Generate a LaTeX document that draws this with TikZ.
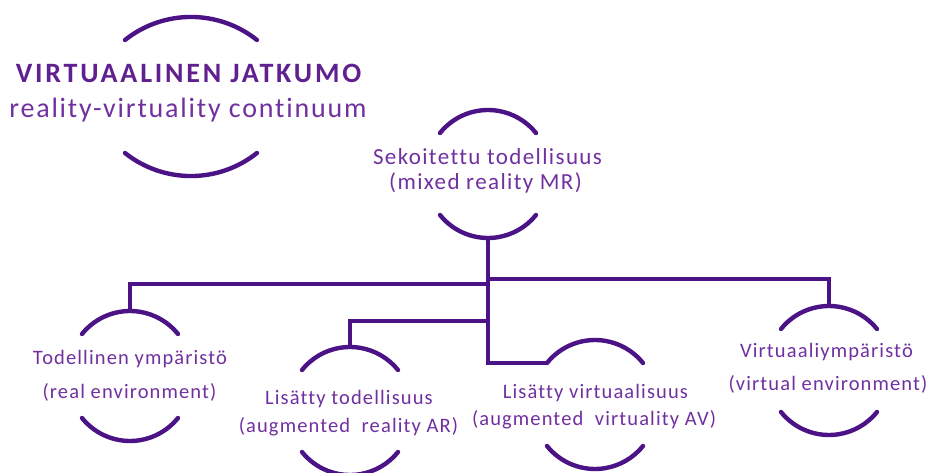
\documentclass[tikz,border=0pt]{standalone}
\usepackage{fontspec}
\setmainfont{Carlito}[Ligatures=NoCommon]
\definecolor{arcpurple}{HTML}{4B1385}
\definecolor{txtpurple}{HTML}{7030A0}
\definecolor{headpurple}{HTML}{60208F}

% Two arcs (above and below a label) around centre (#2,#3);
% #4 = vertical half-gap between the arc ends, #5 = half chord, #6 = radius, #7 = half angle
\newcommand\ringarcs[7]{%
  \coordinate (#1-tl) at (#2-#5,#3+#4);
  \draw[arcline] (#1-tl) arc[start angle={90+#7}, end angle={90-#7}, radius=#6] coordinate (#1-tr);
  \coordinate (#1-t) at (#2,{#3+#4+#6*(1-cos(#7))});
  \coordinate (#1-bl) at (#2-#5,#3-#4);
  \draw[arcline] (#1-bl) arc[start angle={270-#7}, end angle={270+#7}, radius=#6] coordinate (#1-br);
  \coordinate (#1-b) at (#2,{#3-#4-#6*(1-cos(#7))});
}

\begin{document}
\begin{tikzpicture}[x=1pt,y=1pt,
  arcline/.style={draw=arcpurple, line width=4.4pt, line cap=round},
  link/.style={draw=arcpurple, line width=4.4pt},
  lbl/.style={anchor=base, inner sep=0pt, text=txtpurple,
    font=\fontsize{20.5}{24}\selectfont\addfontfeature{LetterSpace=5.5}},
  lblbig/.style={anchor=base, inner sep=0pt, text=txtpurple,
    font=\fontsize{23}{26}\selectfont\addfontfeature{LetterSpace=6}},
  headbold/.style={anchor=base, inner sep=0pt, text=headpurple,
    font=\fontsize{28}{32}\selectfont\bfseries\addfontfeature{LetterSpace=10}},
  headsub/.style={anchor=base, inner sep=0pt, text=txtpurple,
    font=\fontsize{28}{32}\selectfont\addfontfeature{LetterSpace=6.5}}]
\useasboundingbox (0,0) rectangle (930,472);

% title group
\ringarcs{ttl}{191}{375.5}{56.5}{66}{106}{38.5}
\node[headbold] (ttl-1) at (188.5,389) {VIRTUAALINEN JATKUMO};
\node[headsub]  (ttl-2) at (188,354) {reality-virtuality continuum};

% mixed reality
\ringarcs{mr}{488}{298}{41}{48}{61.6}{51.2}
\node[lblbig] (mr-1) at (487.5,307) {Sekoitettu todellisuus};
\node[lblbig] (mr-2) at (485.5,282) {(mixed reality MR)};

% real environment
\ringarcs{te}{130}{96}{42}{48}{61.6}{51.2}
\node[lbl] (te-1) at (130,107) {Todellinen ympäristö};
\node[lbl] (te-2) at (129.5,74) {(real environment)};

% augmented reality
\ringarcs{ar}{350}{61}{41}{48}{61.6}{51.2}
\node[lbl] (ar-1) at (349,68) {Lisätty todellisuus};
\node[lbl] (ar-2) at (348.5,40) {(augmented~~reality AR)};

% augmented virtuality
\ringarcs{av}{595}{67.5}{41.5}{48}{61.6}{51.2}
\node[lbl] (av-1) at (595.5,74) {Lisätty virtuaalisuus};
\node[lbl] (av-2) at (594,47) {(augmented~~virtuality AV)};

% virtual environment
\ringarcs{ve}{829}{101.5}{41.5}{48}{61.6}{51.2}
\node[lbl] (ve-1) at (826.5,115) {Virtuaaliympäristö};
\node[lbl] (ve-2) at (828,82) {(virtual environment)};

% branch points on the trunk
\coordinate (j-ve) at (mr-b |- 0,193);
\coordinate (j-te) at (mr-b |- 0,188);
\coordinate (j-ar) at (mr-b |- 0,151);

% connectors
\draw[link] (mr-b) |- (av-tl);
\draw[link] (j-te) -| (te-t);
\draw[link] (j-ar) -| (ar-t);
\draw[link] (j-ve) -| (ve-t);
\end{tikzpicture}
\end{document}
